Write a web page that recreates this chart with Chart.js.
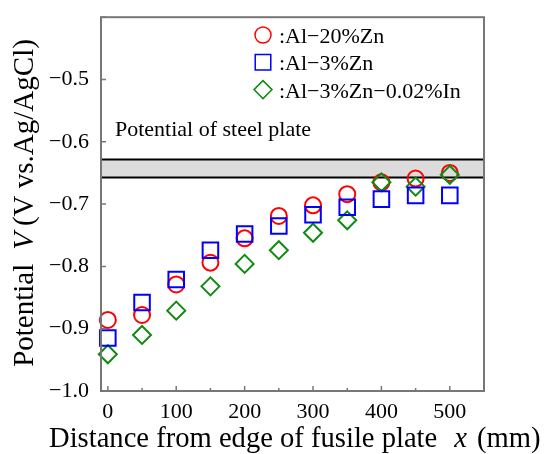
<!DOCTYPE html>
<html lang="en">
<head>
<meta charset="UTF-8">
<title>Potential vs distance</title>
<style>
  html, body { margin: 0; padding: 0; background: #fff; }
  #wrap { position: relative; width: 549px; height: 454px; }
  canvas { display: block; }
</style>
</head>
<body>
<div id="wrap"><canvas id="c" width="549" height="454"></canvas></div>

<script src="https://cdn.jsdelivr.net/npm/chart.js@4.4.1/dist/chart.umd.min.js"></script>
<script>
// distance from plate edge (mm)
const xs = [0, 50, 100, 150, 200, 250, 300, 350, 400, 450, 500];
// potential (V vs Ag/AgCl)
const al20Zn   = [-0.886, -0.878, -0.829, -0.794, -0.755, -0.719, -0.702, -0.684, -0.665, -0.659, -0.650];
const al3Zn    = [-0.915, -0.858, -0.821, -0.774, -0.748, -0.735, -0.717, -0.705, -0.692, -0.686, -0.686];
const al3ZnIn  = [-0.941, -0.910, -0.871, -0.832, -0.796, -0.774, -0.746, -0.726, -0.665, -0.672, -0.653];
const seriesNames = [':Al\u221220%Zn', ':Al\u22123%Zn', ':Al\u22123%Zn\u22120.02%In'];
// steel plate potential band
const steelBand = [-0.6285, -0.6575];
const steelLabel = 'Potential of steel plate';

const SERIF = "'Liberation Serif', 'Times New Roman', serif";
const RED = '#ff0000', BLUE = '#0000ff', GREEN = '#118a11';
const FRAME = '#777777';

const pts = arr => xs.map((x, i) => ({x, y: arr[i]}));

const ds = [
  {label: seriesNames[1], data: pts(al3Zn),   pointStyle: 'rect',    pointRadius: 11, borderColor: BLUE},
  {label: seriesNames[2], data: pts(al3ZnIn), pointStyle: 'rectRot', pointRadius: 9,  borderColor: GREEN},
  {label: seriesNames[0], data: pts(al20Zn),  pointStyle: 'circle',  pointRadius: 8,  borderColor: RED},
].map(d => Object.assign(d, {
  showLine: false, borderWidth: 2, pointBorderWidth: 2,
  backgroundColor: 'rgba(0,0,0,0)', pointBackgroundColor: 'rgba(0,0,0,0)',
  pointBorderColor: d.borderColor, pointHoverRadius: d.pointRadius, clip: false
}));

// legend order as in the figure
const legendOrder = [2, 0, 1];

const decor = {
  id: 'decor',
  beforeDatasetsDraw(chart) {
    const {ctx, chartArea: a, scales: {y}} = chart;
    const y1 = y.getPixelForValue(steelBand[0]), y2 = y.getPixelForValue(steelBand[1]);
    ctx.save();
    ctx.fillStyle = '#dcdcdc';
    ctx.fillRect(a.left, y1, a.right - a.left, y2 - y1);
    ctx.strokeStyle = '#000'; ctx.lineWidth = 2;
    ctx.beginPath();
    ctx.moveTo(a.left, y1); ctx.lineTo(a.right, y1);
    ctx.moveTo(a.left, y2); ctx.lineTo(a.right, y2);
    ctx.stroke();
    ctx.fillStyle = '#000';
    ctx.font = '22px ' + SERIF;
    ctx.textBaseline = 'alphabetic';
    ctx.fillText(steelLabel, a.left + 14, 136);
    ctx.restore();
  },
  afterDraw(chart) {
    const {ctx, chartArea: a, scales: {x, y}} = chart;
    ctx.save();
    // frame
    ctx.strokeStyle = FRAME; ctx.lineWidth = 2;
    ctx.strokeRect(a.left, a.top, a.right - a.left, a.bottom - a.top);
    // inward ticks
    ctx.beginPath();
    y.ticks.forEach(t => {
      const p = y.getPixelForValue(t.value);
      ctx.moveTo(a.left, p); ctx.lineTo(a.left + 5, p);
    });
    x.ticks.forEach(t => {
      const p = x.getPixelForValue(t.value);
      ctx.moveTo(p, a.bottom); ctx.lineTo(p, a.bottom - 5);
      const m = x.getPixelForValue(t.value + 50);
      if (t.value + 50 < x.max) { ctx.moveTo(m, a.bottom); ctx.lineTo(m, a.bottom - 3); }
    });
    ctx.lineWidth = 1.5;
    ctx.stroke();

    // legend
    ctx.font = '22px ' + SERIF;
    ctx.textBaseline = 'alphabetic';
    legendOrder.forEach((k, i) => {
      const d = chart.data.datasets[k];
      const cy = 35 + i * 27.3;
      ctx.strokeStyle = d.borderColor; ctx.lineWidth = 1.5;
      ctx.fillStyle = 'rgba(0,0,0,0)';
      Chart.helpers.drawPoint(ctx, {pointStyle: d.pointStyle, radius: d.pointRadius, borderWidth: 1.5}, 263, cy);
      ctx.fillStyle = '#000';
      ctx.fillText(d.label, 279, cy + 8);
    });

    // axis titles
    ctx.fillStyle = '#000';
    const parts = (list, size) => list.map(([t, it, gap]) => {
      ctx.font = (it ? 'italic ' : '') + size + 'px ' + SERIF;
      return {t, it, w: ctx.measureText(t).width, gap, size};
    });
    const xp = parts([['Distance from edge of fusile plate', false, 17], ['x', true, 10], ['(mm)', false, 0]], 28.6);
    let cx = 49;
    xp.forEach(p => {
      ctx.font = (p.it ? 'italic ' : '') + p.size + 'px ' + SERIF;
      ctx.fillText(p.t, cx, 447);
      cx += p.w + p.gap;
    });

    const yp = parts([['Potential', false, 14], ['V', true, 6], ['(V vs.Ag/AgCl)', false, 0]], 29);
    const total = yp.reduce((s, p) => s + p.w + p.gap, 0);
    ctx.translate(33, 203);
    ctx.rotate(-Math.PI / 2);
    let ty = -total / 2;
    yp.forEach(p => {
      ctx.font = (p.it ? 'italic ' : '') + p.size + 'px ' + SERIF;
      ctx.fillText(p.t, ty, 0);
      ty += p.w + p.gap;
    });
    ctx.restore();
  }
};

new Chart(document.getElementById('c'), {
  type: 'scatter',
  data: {datasets: ds},
  options: {
    responsive: false,
    animation: false,
    events: [],
    layout: {padding: {top: 10, right: 65, bottom: 0, left: 0}},
    plugins: {legend: {display: false}, tooltip: {enabled: false}},
    scales: {
      x: {
        type: 'linear', min: -10, max: 550,
        afterFit: s => { s.height = 63; },
        grid: {display: false}, border: {display: false},
        ticks: {stepSize: 100, includeBounds: false, padding: 0, color: '#000', font: {family: SERIF, size: 22}}
      },
      y: {
        type: 'linear', min: -1.0, max: -0.4,
        afterFit: s => { s.width = 101; },
        grid: {display: false}, border: {display: false},
        ticks: {
          stepSize: 0.1, padding: 4, color: '#000', font: {family: SERIF, size: 22},
          callback: v => v > -0.45 ? '' : '\u2212' + Math.abs(v).toFixed(1)
        }
      }
    }
  },
  plugins: [decor]
});
</script>
</body>
</html>
